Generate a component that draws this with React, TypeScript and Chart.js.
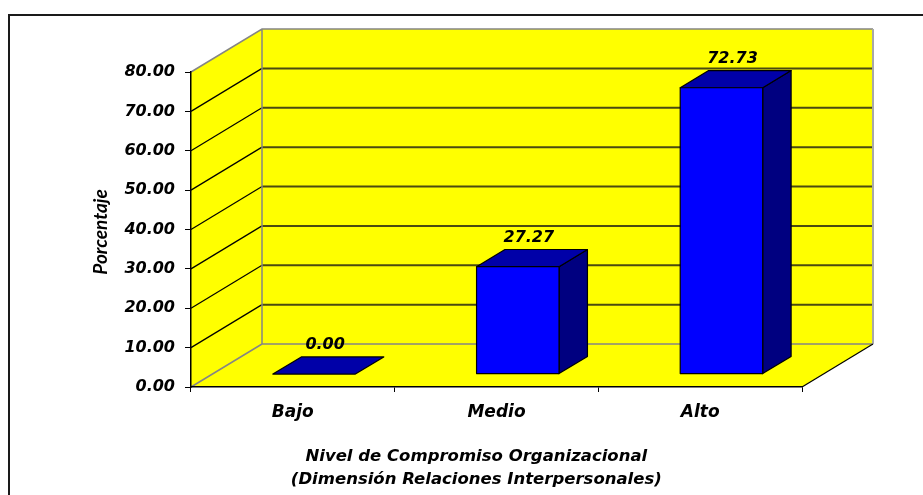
import React, { useEffect, useRef } from 'react';
import { Chart, registerables } from 'chart.js';

Chart.register(...registerables);

// ---- data ----
const categories = ['Bajo', 'Medio', 'Alto'];
const values = [0.0, 27.27, 72.73];
const yMin = 0;
const yMax = 80;
const yStep = 10;
const yAxisTitle = 'Porcentaje';
const xAxisTitle = ['Nivel de Compromiso Organizacional', '(Dimensión Relaciones Interpersonales)'];

// ---- 3D geometry / style ----
const DX = 71;
const DY = 43;
const BAR_OFF = 0.3;
const BAR_DEPTH = 0.4;
const FONT = "'DejaVu Sans', Verdana, sans-serif";
const WALL = '#FFFF00';
const GRID_BACK = '#4a4a10';
const EDGE = '#858585';

const wallPlugin = {
  id: 'walls3d',
  beforeDraw(chart: any) {
    const { ctx, chartArea: a, scales } = chart;
    const ys = scales.y;
    const L = a.left, R = a.right, T = a.top, B = a.bottom;
    ctx.save();
    ctx.fillStyle = '#ffffff';
    ctx.fillRect(0, 0, chart.width, chart.height);
    // outer frame
    ctx.strokeStyle = '#1a1a1a';
    ctx.lineWidth = 2;
    ctx.strokeRect(9, 15, 2000, 2000);

    ctx.fillStyle = WALL;
    // back wall
    ctx.fillRect(L + DX, T - DY, R - L, B - T);
    // left wall
    ctx.beginPath();
    ctx.moveTo(L, T);
    ctx.lineTo(L + DX, T - DY);
    ctx.lineTo(L + DX, B - DY);
    ctx.lineTo(L, B);
    ctx.closePath();
    ctx.fill();
    // floor
    ctx.beginPath();
    ctx.moveTo(L, B);
    ctx.lineTo(R, B);
    ctx.lineTo(R + DX, B - DY);
    ctx.lineTo(L + DX, B - DY);
    ctx.closePath();
    ctx.fill();

    // grid lines
    ys.ticks.forEach((t: any) => {
      const v = t.value;
      if (v === yMin || v === yMax) return;
      const py = ys.getPixelForValue(v);
      ctx.strokeStyle = GRID_BACK;
      ctx.lineWidth = 2;
      ctx.beginPath();
      ctx.moveTo(L + DX, py - DY);
      ctx.lineTo(R + DX, py - DY);
      ctx.stroke();
      ctx.strokeStyle = '#000000';
      ctx.lineWidth = 1.2;
      ctx.beginPath();
      ctx.moveTo(L, py);
      ctx.lineTo(L + DX, py - DY);
      ctx.stroke();
    });

    // wall edges
    ctx.strokeStyle = EDGE;
    ctx.lineWidth = 1.5;
    ctx.beginPath();
    ctx.moveTo(L, T);
    ctx.lineTo(L + DX, T - DY);
    ctx.lineTo(R + DX, T - DY);
    ctx.moveTo(L + DX, T - DY);
    ctx.lineTo(L + DX, B - DY);
    ctx.lineTo(R + DX, B - DY);
    ctx.moveTo(L, B);
    ctx.lineTo(L + DX, B - DY);
    ctx.stroke();
    ctx.strokeStyle = '#a8a8a8';
    ctx.lineWidth = 2;
    ctx.beginPath();
    ctx.moveTo(R + DX, T - DY);
    ctx.lineTo(R + DX, B - DY);
    ctx.stroke();
    ctx.strokeStyle = '#000000';
    ctx.lineWidth = 1.2;
    ctx.beginPath();
    ctx.moveTo(R, B);
    ctx.lineTo(R + DX, B - DY);
    ctx.stroke();
    ctx.restore();
  },
  afterDatasetsDraw(chart: any) {
    const { ctx } = chart;
    const meta = chart.getDatasetMeta(0);
    const ox = DX * BAR_OFF;
    const oy = -DY * BAR_OFF;
    const bx = DX * BAR_DEPTH;
    const by = DY * BAR_DEPTH;
    ctx.save();
    ctx.strokeStyle = '#000000';
    ctx.lineWidth = 1.2;
    ctx.lineJoin = 'round';
    meta.data.forEach((el: any) => {
      const l = el.x - el.width / 2 + ox;
      const r = el.x + el.width / 2 + ox;
      const t = el.y + oy;
      const b = el.base + oy;
      // side
      if (b - t > 0.5) {
        ctx.fillStyle = '#000080';
        ctx.beginPath();
        ctx.moveTo(r, t);
        ctx.lineTo(r + bx, t - by);
        ctx.lineTo(r + bx, b - by);
        ctx.lineTo(r, b);
        ctx.closePath();
        ctx.fill();
        ctx.stroke();
      }
      // top
      ctx.fillStyle = '#0000A8';
      ctx.beginPath();
      ctx.moveTo(l, t);
      ctx.lineTo(r, t);
      ctx.lineTo(r + bx, t - by);
      ctx.lineTo(l + bx, t - by);
      ctx.closePath();
      ctx.fill();
      ctx.stroke();
      // front
      if (b - t > 0.5) {
        ctx.fillStyle = '#0000FF';
        ctx.fillRect(l, t, r - l, b - t);
        ctx.strokeRect(l, t, r - l, b - t);
      }
    });
    ctx.restore();
  },
  afterDraw(chart: any) {
    const { ctx, chartArea: a } = chart;
    const meta = chart.getDatasetMeta(0);
    const ox = DX * BAR_OFF;
    const oy = -DY * BAR_OFF;
    ctx.save();
    ctx.fillStyle = '#000000';
    ctx.font = `italic bold 16px ${FONT}`;
    ctx.textAlign = 'center';
    ctx.textBaseline = 'alphabetic';
    meta.data.forEach((el: any, i: number) => {
      ctx.fillText(values[i].toFixed(2), el.x + ox + 11, el.y + oy - 25);
    });
    // y title
    ctx.save();
    ctx.translate(101, 232);
    ctx.rotate(-Math.PI / 2);
    ctx.font = "italic bold 19px Lato, 'Open Sans', sans-serif";
    ctx.textBaseline = 'middle';
    ctx.fillText(yAxisTitle, 0, 0);
    ctx.restore();
    // x title
    ctx.font = `italic bold 16.5px ${FONT}`;
    ctx.textBaseline = 'middle';
    const cx = a.left + (a.right - a.left) * 0.467;
    ctx.fillText(xAxisTitle[0], cx, 457);
    ctx.fillText(xAxisTitle[1], cx, 480);
    ctx.restore();
  },
};

export default function App() {
  const ref = useRef<HTMLCanvasElement | null>(null);
  useEffect(() => {
    if (!ref.current) return;
    const chart = new Chart(ref.current, {
      type: 'bar',
      data: {
        labels: categories,
        datasets: [
          {
            label: 'Porcentaje',
            data: values,
            backgroundColor: 'rgba(0,0,0,0)',
            borderWidth: 0,
            categoryPercentage: 1,
            barPercentage: 0.405,
          },
        ],
      },
      options: {
        animation: false,
        responsive: true,
        maintainAspectRatio: false,
        layout: { padding: { left: 0, top: 72, right: 121, bottom: 0 } },
        plugins: { legend: { display: false }, tooltip: { enabled: false }, title: { display: false } },
        scales: {
          x: {
            afterFit: (s: any) => {
              s.height = 108;
            },
            grid: { drawOnChartArea: false, drawTicks: true, tickLength: 5, color: '#000000', offset: true },
            border: { display: true, color: '#000000', width: 1.5 },
            ticks: { color: '#000000', padding: 10, font: { family: FONT, size: 17, style: 'italic', weight: 'bold' } },
          },
          y: {
            min: yMin,
            max: yMax,
            afterFit: (s: any) => {
              s.width = 191;
            },
            grid: { drawOnChartArea: false, drawTicks: true, tickLength: 6, color: '#000000' },
            border: { display: true, color: '#000000', width: 1.5 },
            ticks: {
              stepSize: yStep,
              color: '#000000',
              padding: 10,
              font: { family: FONT, size: 16, style: 'italic', weight: 'bold' },
              callback: (v: any) => Number(v).toFixed(2),
            },
          },
        },
      },
      plugins: [wallPlugin],
    });
    return () => chart.destroy();
  }, []);
  return (
    <div style={{ position: 'fixed', left: 0, top: 0, width: 923, height: 495 }}>
      <canvas ref={ref} />
    </div>
  );
}
